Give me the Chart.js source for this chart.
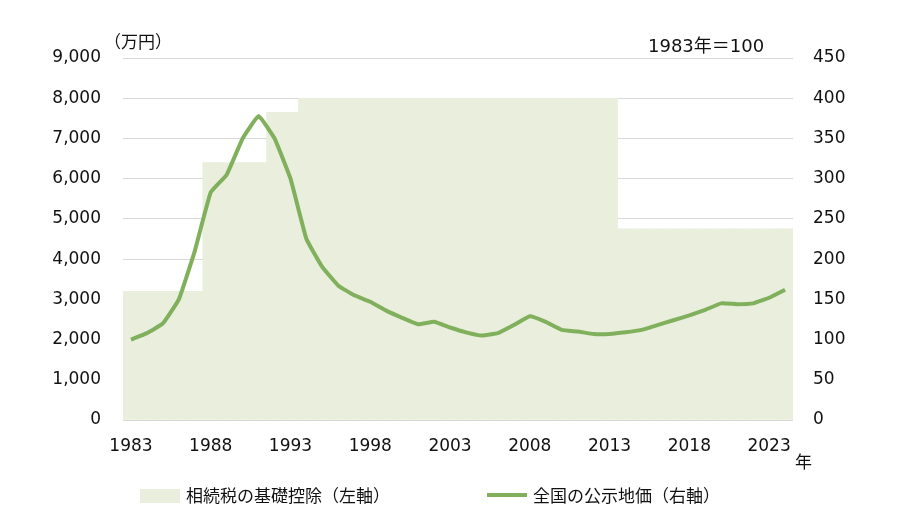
<!DOCTYPE html>
<html><head><meta charset="utf-8">
<script src="https://cdn.jsdelivr.net/npm/chart.js@4"></script>
<style>
body{margin:0;width:910px;height:512px;position:relative;font-family:"DejaVu Sans","Noto Sans CJK JP",sans-serif;color:#111;background:#fff}
#c{position:absolute;left:0;top:0}
.t{position:absolute;font-size:17px;white-space:nowrap}
</style></head><body>
<canvas id="c" width="910" height="512"></canvas>
<div class="t" style="left:104px;top:28px">（万円）</div>
<div class="t" style="left:648px;top:31px;font-size:18px">1983年＝100</div>
<div class="t" style="left:795px;top:448px">年</div>
<div class="t" style="left:140px;top:482px"><span style="display:inline-block;width:40px;height:14px;background:#e9eedd;vertical-align:-1px;margin-right:6px"></span>相続税の基礎控除（左軸）</div>
<div class="t" style="left:487px;top:482px"><span style="display:inline-block;width:40px;height:4px;background:#80b05c;vertical-align:5px;margin-right:6px"></span>全国の公示地価（右軸）</div>
<script>
const years=[];for(let y=1983;y<=2024;y++)years.push(String(y));
const deduction=[3200,3200,3200,3200,3200,6400,6400,6400,6400,7650,7650,
8000,8000,8000,8000,8000,8000,8000,8000,8000,8000,8000,8000,8000,8000,8000,8000,8000,8000,8000,8000,
4750,4750,4750,4750,4750,4750,4750,4750,4750,4750,4750];
const landIndex=[100,108,120,150,210,283,305,350,378,350,300,225,190,167,155,147,136,127,119,122,115,109,105,108,118,129,122,112,110,107,107,109,112,118,124,130,137,145,144,145,152,162];
const f={family:"DejaVu Sans",size:17};
new Chart(document.getElementById('c'),{
data:{labels:years,datasets:[
{type:'line',data:landIndex,yAxisID:'y1',borderColor:'#80b05c',borderWidth:4,pointRadius:0,tension:0.1,order:0},
{type:'bar',data:deduction,yAxisID:'y',backgroundColor:'#e9eedd',categoryPercentage:1,barPercentage:1,order:1}
]},
options:{responsive:false,animation:false,layout:{padding:{top:58,left:0,right:0,bottom:0}},
plugins:{legend:{display:false},tooltip:{enabled:false}},
scales:{
x:{grid:{display:false},border:{display:false},ticks:{font:f,color:'#111',maxRotation:0,autoSkip:false,padding:8,callback:(v,i)=>i%5===0?years[i]:''},afterFit:s=>{s.height=92}},
y:{position:'left',min:0,max:9000,ticks:{stepSize:1000,font:f,color:'#111',padding:22,callback:v=>v.toLocaleString('en-US')},grid:{color:'#d9d9d9',drawTicks:false},border:{display:false},afterFit:s=>{s.width=123}},
y1:{position:'right',min:0,max:450,ticks:{stepSize:50,font:f,color:'#111',padding:12},grid:{display:false},border:{display:false},afterFit:s=>{s.width=117}}
}}});
</script></body></html>
